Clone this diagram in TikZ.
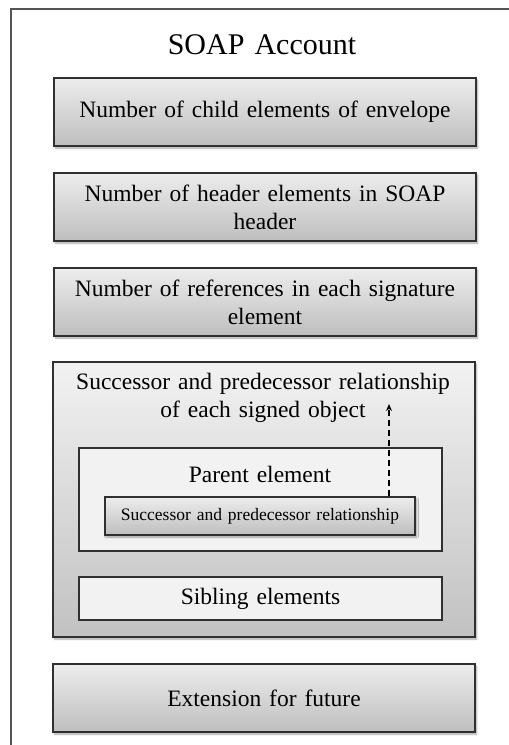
\documentclass[tikz,border=0pt]{standalone}
\usepackage{fontspec}
\setmainfont{Liberation Serif}[WordSpace=1.35]
\usetikzlibrary{shadows.blur,arrows.meta}
\definecolor{frameline}{HTML}{555555}
\definecolor{boxline}{HTML}{303030}
\definecolor{paneltop}{HTML}{EDEDED}
\definecolor{panelbot}{HTML}{BEBEBE}
\definecolor{flatfill}{HTML}{F2F2F2}
\tikzset{
  panel/.style={draw=boxline, line width=1.3pt, top color=paneltop, bottom color=panelbot,
    minimum width=422pt, minimum height=68pt, align=center, inner sep=0pt,
    blur shadow={shadow xshift=1.5pt, shadow yshift=-2pt, shadow blur steps=6, shadow opacity=35}},
  flatbox/.style={draw=boxline, line width=1.1pt, fill=flatfill, minimum width=363pt, inner sep=0pt},
  label/.style={font=\fontsize{23.5}{28}\selectfont, align=center, inner sep=0pt},
}
\begin{document}
\begin{tikzpicture}[x=1pt,y=-1pt]
\useasboundingbox (0,0) rectangle (509,745);
% open outer frame
\coordinate (fbl) at (11,750);
\coordinate (ftl) at (11,9);
\coordinate (ftr) at (515,9);
\draw[frameline, line width=2pt] (fbl) -- (ftl) -- (ftr);

\node[font=\fontsize{30}{36}\selectfont, inner sep=0pt] (title) at (262,45) {SOAP Account};

\node[panel, label] (b1) at (265,112) {Number of child elements of envelope};
\node[panel, label] (b2) at (265,207) {Number of header elements in SOAP\\header};
\node[panel, label] (b3) at (265,302) {Number of references in each signature\\element};

\node[panel, minimum height=275pt, top color=flatfill, bottom color=panelbot!95!white] (big) at (264,499.5) {};
\node[label] (bigtxt) at (263,398) {Successor and predecessor relationship\\of each signed object};

\node[flatbox, minimum height=103pt] (parent) at (260.5,499.5) {};
\node[label] (parenttxt) at (260,474) {Parent element};
\node[panel, minimum width=310pt, minimum height=38pt, font=\fontsize{17.5}{20}\selectfont] (sapr) at (260,516) {Successor and predecessor relationship};

\node[flatbox, minimum height=43pt, label, minimum width=363pt] (sib) at (260.5,598.5) {Sibling elements};

\node[panel, label] (ext) at (264,698) {Extension for future};

\coordinate (arrtip) at (389,404);
\draw[line width=1.4pt, dash pattern=on 6pt off 4pt, -{Stealth[length=7pt,width=6pt]}] (sapr.north -| arrtip) -- (arrtip);
\end{tikzpicture}
\end{document}
